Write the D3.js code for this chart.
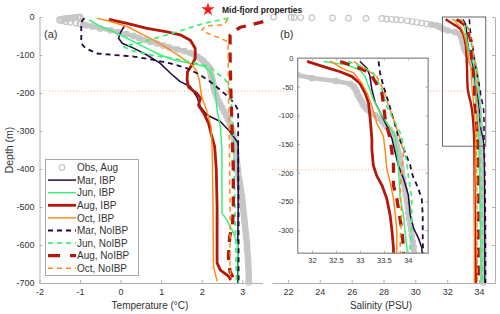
<!DOCTYPE html>
<html><head><meta charset="utf-8">
<script src="https://cdn.jsdelivr.net/npm/d3@7"></script>
<style>body{margin:0;background:#fff;} svg{font-family:"Liberation Sans",Arial,sans-serif;display:block;}</style>
</head><body><svg id="c" width="500" height="314"></svg>
<script>
// ---------- DATA ----------
const depthTicks = [0,-100,-200,-300,-400,-500,-600,-700];
const tempTicks = [-2,-1,0,1,2,3];
const salTicks = [22,24,26,28,30,32,34];
const insetDepthTicks = [0,-50,-100,-150,-200,-250,-300];
const insetSalTicks = [32,32.5,33,33.5,34];
const refDepth = -195;

// observations (Aug): depth (m), temperature (°C), salinity (PSU)
const obsDepth = [0,-0.5,-1,-1.5,-2,-2.5,-3,-3.5,-4,-5,-6,-7,-8,-10,-12,-14,-16,-18,-20,-22,-25,-30,-35,-40,-45,-50,-55,-60,-65,-70,-75,-80,-85,-90,-95,-100,-105,-110,-115,-120,-125,-130,-135,-140,-145,-150,-155,-160,-165,-170,-175,-180,-185,-190,-195,-200,-210,-220,-230,-240,-250,-260,-270,-280,-290,-300,-310,-320,-330,-340,-350,-360,-370,-380,-390,-400,-410,-420,-430,-440,-450,-460,-470,-480,-490,-500,-510,-520,-530,-540,-550,-560,-570,-580,-590,-600,-610,-620,-630,-640,-650,-660,-670,-680,-690,-698];
const obsTemp = [-1.00,-1.02,-1.05,-1.10,-1.15,-1.20,-1.25,-1.30,-1.35,-1.40,-1.45,-1.50,-1.50,-1.45,-1.35,-1.25,-1.10,-1.00,-0.92,-0.85,-0.70,-0.50,-0.25,-0.05,0.15,0.32,0.45,0.60,0.73,0.90,1.05,1.20,1.40,1.58,1.72,1.82,1.90,1.97,2.03,2.07,2.12,2.16,2.19,2.21,2.22,2.23,2.24,2.25,2.26,2.27,2.28,2.29,2.30,2.31,2.32,2.34,2.37,2.41,2.46,2.51,2.56,2.61,2.65,2.69,2.73,2.76,2.78,2.80,2.81,2.82,2.83,2.85,2.86,2.87,2.88,2.89,2.90,2.91,2.93,2.94,2.96,2.97,2.99,3.00,3.01,3.02,3.03,3.04,3.05,3.06,3.07,3.08,3.09,3.10,3.11,3.12,3.12,3.13,3.14,3.14,3.15,3.15,3.16,3.16,3.16,3.16];
const obsSal = [21.1,22.2,22.4,22.8,23.5,24.8,25.8,26.9,27.9,28.2,28.5,28.8,29.1,29.5,29.8,30.1,30.4,30.7,31.0,31.3,31.5,31.7,32.0,32.5,32.8,32.87,32.91,32.94,32.96,33.0,33.03,33.06,33.10,33.15,33.22,33.32,33.40,33.46,33.51,33.56,33.62,33.66,33.70,33.73,33.75,33.76,33.77,33.78,33.80,33.82,33.83,33.84,33.85,33.86,33.87,33.88,33.90,33.92,33.94,33.96,33.98,34.00,34.01,34.03,34.05,34.07,34.08,34.10,34.12,34.13,34.14,34.15,34.16,34.17,34.18,34.18,34.19,34.19,34.20,34.20,34.21,34.21,34.22,34.22,34.23,34.23,34.23,34.24,34.24,34.24,34.25,34.25,34.25,34.25,34.26,34.26,34.26,34.26,34.26,34.27,34.27,34.27,34.27,34.27,34.27,34.28];

// model temperature profiles: [depth, temperature]
const tempMarIBP = [[-25,0.09],[-40,0.0],[-56,-0.05],[-69,0.04],[-82,0.32],[-100,0.65],[-122,0.98],[-148,1.23],[-170,1.47],[-183,1.72],[-210,1.88],[-236,1.97],[-258,2.13],[-275,2.46],[-302,2.7],[-332,2.9],[-400,2.9],[-500,2.9],[-600,2.89],[-700,2.89]];
const tempJunIBP = [[-8,-0.78],[-12,-0.7],[-25,-0.5],[-39,-0.17],[-56,0.16],[-74,0.49],[-96,0.9],[-113,1.31],[-122,1.72],[-129,2.05],[-144,2.21],[-166,2.29],[-201,2.34],[-245,2.38],[-289,2.46],[-350,2.5],[-450,2.5],[-516,2.5],[-534,2.62],[-569,2.79],[-596,2.88],[-650,2.9],[-700,2.91]];
const tempAugIBP = [[-6,-0.29],[-17,0.16],[-30,0.65],[-39,1.15],[-47,1.47],[-61,1.72],[-82,1.84],[-109,1.84],[-126,1.76],[-144,1.65],[-166,1.64],[-185,1.68],[-201,1.88],[-214,1.97],[-232,1.92],[-253,2.05],[-280,2.17],[-306,2.23],[-341,2.32],[-400,2.36],[-500,2.38],[-600,2.38],[-647,2.38],[-666,2.46],[-682,2.66],[-692,2.72]];
const tempOctIBP = [[-3,-0.58],[-12,-0.25],[-25,0.16],[-43,0.49],[-61,0.82],[-82,1.15],[-104,1.47],[-126,1.76],[-144,1.88],[-166,1.94],[-188,1.97],[-210,2.0],[-236,2.09],[-262,2.17],[-289,2.23],[-350,2.26],[-500,2.28],[-655,2.29],[-695,2.38]];
const tempMarNoIBP = [[-3,-0.89],[-10,-0.95],[-17,-0.97],[-69,-0.97],[-82,-0.87],[-96,-0.58],[-100,-0.17],[-104,0.32],[-113,0.82],[-122,1.23],[-135,1.64],[-153,1.97],[-170,2.21],[-192,2.46],[-214,2.7],[-232,2.83],[-245,2.9],[-350,2.9],[-500,2.91],[-700,2.91]];
const tempJunNoIBP = [[-3,2.66],[-17,2.05],[-39,1.39],[-65,0.57],[-78,0.08],[-87,0.24],[-100,0.73],[-109,1.31],[-122,1.88],[-131,2.21],[-148,2.38],[-161,2.54],[-170,2.62],[-201,2.71],[-300,2.78],[-400,2.8],[-500,2.82],[-600,2.84],[-700,2.86]];
const tempAugNoIBP = [[-12,3.52],[-21,3.2],[-27,2.95],[-39,2.78],[-48,2.7],[-100,2.7],[-200,2.72],[-300,2.75],[-400,2.78],[-500,2.78],[-550,2.76],[-578,2.69],[-631,2.66],[-670,2.7],[-690,2.8]];
const tempOctNoIBP = [[-5,2.65],[-21,2.54],[-23,2.13],[-34,2.0],[-39,2.05],[-56,2.46],[-65,2.65],[-200,2.66],[-300,2.68],[-500,2.7],[-650,2.7],[-690,2.72]];

// model salinity profiles: [depth, salinity]
const salMarIBP = [[-6,33.0],[-18,33.15],[-32,33.21],[-55,33.25],[-78,33.32],[-101,33.46],[-118,33.56],[-141,33.67],[-159,33.72],[-187,33.8],[-210,33.91],[-239,34.01],[-274,34.05],[-297,34.12],[-314,34.22],[-331,34.29],[-380,34.33],[-500,34.35],[-700,34.36]];
const salJunIBP = [[-6,32.24],[-12,32.73],[-21,33.0],[-32,33.11],[-49,33.18],[-72,33.28],[-95,33.42],[-118,33.6],[-136,33.73],[-159,33.77],[-187,33.8],[-245,33.84],[-274,33.91],[-302,33.94],[-331,33.98],[-450,34.05],[-600,34.1],[-700,34.12]];
const salAugIBP = [[-6,31.9],[-15,32.24],[-24,32.59],[-32,32.83],[-44,33.0],[-61,33.11],[-78,33.18],[-101,33.21],[-141,33.25],[-159,33.25],[-187,33.28],[-205,33.35],[-222,33.46],[-245,33.56],[-274,33.63],[-302,33.67],[-331,33.7],[-450,33.72],[-600,33.76],[-700,33.8]];
const salOctIBP = [[-5,32.38],[-18,32.63],[-26,32.87],[-44,33.04],[-61,33.15],[-84,33.25],[-113,33.35],[-136,33.49],[-164,33.53],[-193,33.56],[-216,33.63],[-245,33.7],[-274,33.74],[-302,33.77],[-331,33.77],[-450,33.72],[-600,33.7],[-700,33.7]];
const salMarNoIBP = [[-6,33.39],[-26,33.42],[-49,33.49],[-78,33.6],[-107,33.7],[-136,33.8],[-164,33.94],[-187,34.05],[-205,34.1],[-222,34.19],[-245,34.29],[-274,34.31],[-320,34.31],[-400,34.36],[-550,34.4],[-700,34.4]];
const salJunNoIBP = [[-6,32.75],[-15,33.05],[-26,33.28],[-55,33.46],[-84,33.56],[-107,33.7],[-130,33.84],[-153,33.91],[-182,33.98],[-205,34.01],[-245,34.08],[-291,34.08],[-331,34.05],[-450,34.15],[-600,34.2],[-700,34.22]];
const salAugNoIBP = [[-6,32.59],[-18,33.0],[-26,33.21],[-61,33.46],[-107,33.53],[-141,33.63],[-182,33.7],[-222,33.7],[-245,33.77],[-297,33.87],[-331,33.91],[-450,33.93],[-600,33.95],[-700,33.97]];
const salOctNoIBP = [[-6,32.87],[-32,33.35],[-55,33.49],[-84,33.6],[-113,33.73],[-141,33.84],[-164,33.91],[-228,33.84],[-274,33.87],[-320,33.84],[-450,33.86],[-600,33.88],[-700,33.9]];

const seriesNames = ["Mar, IBP","Jun, IBP","Aug, IBP","Oct, IBP","Mar, NoIBP","Jun, NoIBP","Aug, NoIBP","Oct, NoIBP"];
const tempData = [tempMarIBP,tempJunIBP,tempAugIBP,tempOctIBP,tempMarNoIBP,tempJunNoIBP,tempAugNoIBP,tempOctNoIBP];
const salData = [salMarIBP,salJunIBP,salAugIBP,salOctIBP,salMarNoIBP,salJunNoIBP,salAugNoIBP,salOctNoIBP];

// ---------- STYLE ----------
const colMar="#220a3e", colJun="#3ff078", colAug="#b3180a", colOct="#ff8a1c", colObs="#c6c6c6";
const styles = [
  {c:colMar,w:1.5,d:null},{c:colJun,w:1.5,d:null},{c:colAug,w:2.8,d:null},{c:colOct,w:1.5,d:null},
  {c:colMar,w:1.8,d:"5,4"},{c:colJun,w:1.8,d:"5,4"},{c:colAug,w:3.3,d:"10,8"},{c:colOct,w:1.5,d:"5,4"}
];
const axisCol="#b0b0b0", textCol="#333";

const svg=d3.select("#c");
const xA=d3.scaleLinear().domain([-2,3.5]).range([39.5,262.5]);
const yM=d3.scaleLinear().domain([-700,0]).range([283,17]);
const xB=d3.scaleLinear().domain([21,35]).range([272,495]);
const xI=d3.scaleLinear().domain([31.7,34.42]).range([297.5,428]);
const yI=d3.scaleLinear().domain([-340,0]).range([253,58]);
const hy = d => String(d).replace("\u2212","-");
const obsIdx = obsDepth.map((d,i)=>i);

function styleAxis(g,fs){
  g.selectAll(".domain").attr("stroke",axisCol);
  g.selectAll(".tick line").attr("stroke",axisCol);
  g.selectAll(".tick text").attr("fill",textCol).style("font-size",fs+"px").style("font-family","Liberation Sans, Arial, sans-serif");
}
function drawObs(g,xs,ys,vals){
  // band formed by the closely packed observations below the surface layer
  const band=d3.line().defined(i=>obsDepth[i]<=-20).x(i=>xs(vals[i])).y(i=>ys(obsDepth[i]));
  g.append("path").datum(obsIdx).attr("d",band).attr("fill","none").attr("stroke",colObs)
    .attr("stroke-width",4.5).attr("stroke-linecap","round").attr("stroke-linejoin","round");
  g.append("g").selectAll("circle").data(obsIdx).join("circle")
    .attr("cx",i=>xs(vals[i])).attr("cy",i=>ys(obsDepth[i])).attr("r",2.8)
    .attr("fill","none").attr("stroke",colObs).attr("stroke-width",1.2);
}

// reference dotted line (behind)
svg.append("line").attr("x1",40).attr("x2",495).attr("y1",yM(refDepth)).attr("y2",yM(refDepth))
  .attr("stroke","#f2a27a").attr("stroke-width",0.8).attr("stroke-dasharray","1,2");

// ---------- PANEL A ----------
const gA=svg.append("g");
gA.append("g").attr("transform","translate(0,283)")
  .call(d3.axisBottom(xA).tickValues(tempTicks).tickSizeInner(-3).tickSizeOuter(0).tickPadding(6).tickFormat(hy))
  .call(g=>styleAxis(g,9));
gA.append("g").attr("transform","translate(39.5,0)")
  .call(d3.axisLeft(yM).tickValues(depthTicks).tickSizeInner(-3).tickSizeOuter(0).tickPadding(5).tickFormat(hy))
  .call(g=>styleAxis(g,9));

drawObs(gA,xA,yM,obsTemp);
const lineA=d3.line().x(d=>xA(d[1])).y(d=>yM(d[0]));
tempData.forEach((arr,i)=>{
  gA.append("path").datum(arr).attr("d",lineA).attr("fill","none")
    .attr("stroke",styles[i].c).attr("stroke-width",styles[i].w)
    .attr("stroke-dasharray",styles[i].d).attr("stroke-linejoin","round");
});

// ---------- PANEL B ----------
const gB=svg.append("g");
gB.append("g").attr("transform","translate(0,283)")
  .call(d3.axisBottom(xB).tickValues(salTicks).tickSizeInner(-3).tickSizeOuter(0).tickPadding(6))
  .call(g=>styleAxis(g,9));
gB.append("g").attr("transform","translate(495,0)")
  .call(d3.axisRight(yM).tickValues(depthTicks).tickSizeInner(-3).tickSizeOuter(0).tickFormat(""))
  .call(g=>styleAxis(g,9));

drawObs(gB,xB,yM,obsSal);
const lineB=d3.line().x(d=>xB(d[1])).y(d=>yM(d[0]));
salData.forEach((arr,i)=>{
  gB.append("path").datum(arr).attr("d",lineB).attr("fill","none")
    .attr("stroke",styles[i].c).attr("stroke-width",Math.max(1.2,styles[i].w*0.85))
    .attr("stroke-dasharray",styles[i].d).attr("stroke-linejoin","round");
});
gB.append("rect").attr("x",xB(31.7)).attr("y",yM(0)).attr("width",xB(34.42)-xB(31.7)).attr("height",yM(-340)-yM(0))
  .attr("fill","none").attr("stroke","#555").attr("stroke-width",0.9);

// ---------- INSET ----------
const gI=svg.append("g");
const ix0=xI.range()[0], ix1=xI.range()[1], iy0=yI.range()[1], iy1=yI.range()[0];
gI.append("rect").attr("x",ix0).attr("y",iy0).attr("width",ix1-ix0).attr("height",iy1-iy0).attr("fill","#fff");
svg.append("defs").append("clipPath").attr("id","clipI").append("rect")
  .attr("x",ix0).attr("y",iy0).attr("width",ix1-ix0).attr("height",iy1-iy0);
gI.append("line").attr("x1",272).attr("x2",ix1).attr("y1",yI(refDepth)).attr("y2",yI(refDepth))
  .attr("stroke","#f2a27a").attr("stroke-width",0.8).attr("stroke-dasharray","1,2");
const gIc=gI.append("g").attr("clip-path","url(#clipI)");
drawObs(gIc,xI,yI,obsSal);
const lineI=d3.line().x(d=>xI(d[1])).y(d=>yI(d[0]));
salData.forEach((arr,i)=>{
  gIc.append("path").datum(arr).attr("d",lineI).attr("fill","none")
    .attr("stroke",styles[i].c).attr("stroke-width",styles[i].w)
    .attr("stroke-dasharray",styles[i].d).attr("stroke-linejoin","round");
});
const numFmt = d => String(d);
gI.append("g").attr("transform",`translate(0,${iy1})`)
  .call(d3.axisBottom(xI).tickValues(insetSalTicks).tickSizeInner(-2.5).tickSizeOuter(0).tickPadding(5).tickFormat(numFmt))
  .call(g=>styleAxis(g,7.5));
gI.append("g").attr("transform",`translate(${ix0},0)`)
  .call(d3.axisLeft(yI).tickValues(insetDepthTicks).tickSizeInner(-2.5).tickSizeOuter(0).tickPadding(4).tickFormat(hy))
  .call(g=>styleAxis(g,7.5));
gI.append("g").attr("transform",`translate(0,${iy0})`)
  .call(d3.axisTop(xI).tickValues(insetSalTicks).tickSizeInner(-2.5).tickSizeOuter(0).tickFormat(""))
  .call(g=>styleAxis(g,7.5));
gI.append("g").attr("transform",`translate(${ix1},0)`)
  .call(d3.axisRight(yI).tickValues(insetDepthTicks).tickSizeInner(-2.5).tickSizeOuter(0).tickFormat(""))
  .call(g=>styleAxis(g,7.5));
gI.append("rect").attr("x",ix0).attr("y",iy0).attr("width",ix1-ix0).attr("height",iy1-iy0)
  .attr("fill","none").attr("stroke","#8c8c8c").attr("stroke-width",0.9);

// ---------- LABELS ----------
const txt=(x,y,s,fs,opt={})=>{
  const t=svg.append("text").attr("x",x).attr("y",y).text(s).attr("fill",opt.fill||textCol)
    .style("font-size",fs+"px").attr("text-anchor",opt.anchor||"start");
  if(opt.bold) t.style("font-weight","bold");
  if(opt.rot) t.attr("transform",`rotate(-90,${x},${y})`);
  return t;
};
txt(150,309,"Temperature (\u00B0C)",10,{anchor:"middle"});
txt(381,309,"Salinity (PSU)",10,{anchor:"middle"});
txt(13,150,"Depth (m)",10.5,{anchor:"middle",rot:true});
txt(44,38,"(a)",11);
txt(280,38,"(b)",11);
svg.append("path").attr("d",d3.symbol(d3.symbolStar,55)()).attr("transform","translate(208,9.5)").attr("fill","#ff1a1a");
txt(222,12.5,"Mid-fjord properties",8.5,{bold:true,fill:"#222"});

// ---------- LEGEND ----------
const lg=svg.append("g");
lg.append("rect").attr("x",45.5).attr("y",159.5).attr("width",93).attr("height",116).attr("fill","#fff").attr("stroke","#a0a0a0").attr("stroke-width",0.9);
const ly0=167.5, lstep=12.6;
lg.append("circle").attr("cx",62).attr("cy",ly0).attr("r",2.8).attr("fill","none").attr("stroke",colObs).attr("stroke-width",1.2);
txt(77,ly0+3.6,"Obs, Aug",10);
seriesNames.forEach((n,i)=>{
  const y=ly0+(i+1)*lstep;
  lg.append("line").attr("x1",48).attr("x2",76).attr("y1",y).attr("y2",y)
    .attr("stroke",styles[i].c).attr("stroke-width",styles[i].w).attr("stroke-dasharray",styles[i].d==="10,8"?"12,10":styles[i].d);
  txt(77,y+3.6,n,10);
});
</script>
</body></html>
